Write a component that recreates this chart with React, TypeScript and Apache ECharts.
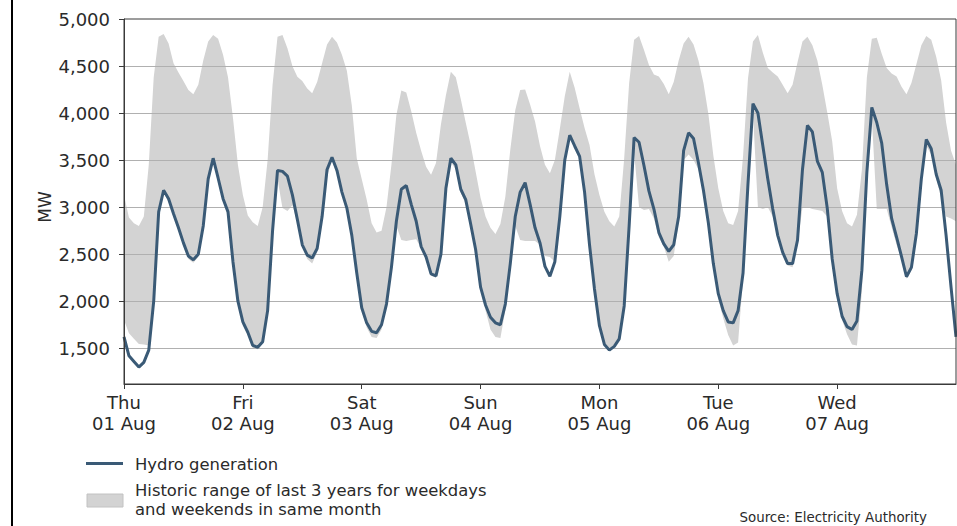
import React, { useEffect, useRef } from "react";
import * as echarts from "echarts";

const dayNames = ["Thu", "Fri", "Sat", "Sun", "Mon", "Tue", "Wed"];
const dayDates = ["01 Aug", "02 Aug", "03 Aug", "04 Aug", "05 Aug", "06 Aug", "07 Aug"];
const yTicks = [1500, 2000, 2500, 3000, 3500, 4000, 4500, 5000];

// hourly values, hour 0 = Thu 01 Aug 00:00 ... hour 168 = Thu 08 Aug 00:00
const hydro = [
  1620, 1420, 1360, 1300, 1350, 1480, 2000, 2950, 3180, 3090, 2930, 2780, 2620, 2480, 2440, 2500, 2800, 3300, 3520, 3310, 3090, 2950, 2420, 2000,
  1780, 1670, 1530, 1510, 1570, 1900, 2750, 3390, 3380, 3330, 3130, 2870, 2600, 2490, 2460, 2560, 2900, 3400, 3530, 3390, 3160, 2990, 2700, 2300,
  1930, 1770, 1680, 1665, 1750, 1970, 2360, 2850, 3190, 3230, 3030, 2850, 2580, 2470, 2290, 2270, 2500, 3200, 3520, 3450, 3190, 3080, 2820, 2550,
  2150, 1960, 1830, 1770, 1750, 1970, 2400, 2900, 3160, 3260, 3030, 2780, 2620, 2370, 2265, 2420, 2900, 3500, 3765, 3650, 3540, 3160, 2600, 2130,
  1740, 1540, 1480, 1520, 1600, 1950, 2800, 3740, 3690, 3440, 3170, 2980, 2730, 2610, 2530, 2600, 2900, 3600, 3790, 3730, 3470, 3180, 2830, 2400,
  2080, 1900, 1780, 1770, 1900, 2300, 3250, 4100, 4000, 3650, 3300, 2980, 2700, 2520, 2400, 2400, 2650, 3400, 3870, 3800, 3490, 3370, 2990, 2450,
  2080, 1840, 1730, 1700, 1790, 2330, 3370, 4060, 3900, 3680, 3240, 2880, 2680, 2475, 2260, 2360, 2720, 3300, 3720, 3620, 3350, 3180, 2700, 2150,
  1620,
];

const rangeHigh = [
  3130, 2890, 2830, 2800, 2900, 3450, 4380, 4810, 4840, 4740, 4530, 4430, 4340, 4245, 4200, 4300, 4560, 4760, 4830, 4790, 4620, 4380, 3950, 3450,
  3130, 2910, 2840, 2800, 3000, 3500, 4300, 4810, 4830, 4690, 4500, 4385, 4340, 4260, 4210, 4330, 4530, 4730, 4810, 4750, 4620, 4450, 4080, 3520,
  3300, 3080, 2830, 2730, 2750, 3000, 3450, 3980, 4240, 4220, 4020, 3790, 3600, 3430, 3345, 3470, 3880, 4190, 4440, 4380, 4150, 3900, 3660, 3380,
  3100, 2900, 2780, 2715, 2820, 3110, 3610, 4030, 4245, 4250, 4090, 3910, 3650, 3450, 3360, 3500, 3830, 4180, 4440, 4270, 4050, 3840, 3660, 3350,
  3130, 2950, 2850, 2795, 2900, 3520, 4320, 4780, 4820, 4670, 4510, 4410, 4390, 4310, 4200, 4330, 4560, 4740, 4810, 4730, 4560, 4320, 3990, 3550,
  3200, 2960, 2830, 2810, 2960, 3540, 4370, 4760, 4830, 4640, 4480, 4430, 4390, 4300, 4210, 4300, 4540, 4760, 4810, 4720, 4560, 4300, 4010, 3700,
  3200, 2960, 2830, 2795, 2920, 3400, 4380, 4790, 4800, 4630, 4480, 4420, 4390, 4280, 4200, 4320, 4520, 4720, 4820, 4780, 4600, 4350, 3900, 3600,
  3450,
];

const rangeLow = [
  1800, 1660, 1600, 1545, 1540, 1530, 1980, 2900, 3150, 3060, 2900, 2750, 2590, 2450, 2410, 2470, 2760, 3250, 3480, 3270, 3060, 2910, 2380, 1970,
  1740, 1650, 1500, 1490, 1550, 1880, 2700, 3300, 2990, 2960, 3020, 2840, 2580, 2450, 2400, 2520, 2860, 3330, 3490, 3350, 3130, 2960, 2670, 2270,
  1900, 1720, 1620, 1610, 1700, 1950, 2330, 2800, 2650, 2640, 2650, 2660, 2560, 2440, 2270, 2250, 2480, 3150, 3480, 3400, 3150, 3040, 2800, 2530,
  2120, 1900, 1700, 1620, 1610, 1900, 2380, 2800, 2650, 2640, 2640, 2640, 2600, 2480, 2470, 2420, 2880, 3480, 3740, 3630, 3520, 3140, 2580, 2110,
  1720, 1530, 1470, 1510, 1580, 1930, 2780, 3580, 3000, 2970, 2980, 2880, 2680, 2580, 2420, 2480, 2850, 3500, 3560, 3500, 3400, 3120, 2800, 2370,
  2030, 1820, 1640, 1530, 1560, 2250, 3200, 4000, 3000, 2980, 3000, 2900, 2680, 2500, 2380, 2360, 2600, 3000, 3000, 2980, 2970, 2960, 2900, 2400,
  2050, 1800, 1650, 1540, 1530, 2100, 3250, 3950, 2980, 2980, 2980, 2790, 2600, 2450, 2240, 2330, 2700, 3250, 3650, 3560, 3300, 3100, 2900, 2880,
  2850,
];

const FONT = "DejaVu Sans";
const TEXT = "#2a2a2a";
const SPINE = "#3a3a3a";
const LINE = "#3a5a76";
const BAND = "#d3d3d3";

export default function App() {
  const ref = useRef<HTMLDivElement>(null);

  useEffect(() => {
    if (!ref.current) return;
    const chart = echarts.init(ref.current, null, { renderer: "svg" });
    const hours = hydro.map((_, i) => i);

    const option: any = {
      animation: false,
      backgroundColor: "#ffffff",
      grid: {
        left: 124,
        right: 1,
        top: 19,
        bottom: 142,
        show: true,
        borderColor: SPINE,
        borderWidth: 1,
        backgroundColor: "transparent",
        z: 20,
      },
      xAxis: {
        type: "value",
        min: 0,
        max: 168,
        interval: 24,
        z: 20,
        axisLine: { show: true, onZero: false, lineStyle: { color: SPINE, width: 1 } },
        axisTick: { show: true, length: 5, lineStyle: { color: SPINE } },
        splitLine: { show: false },
        axisLabel: {
          show: true,
          showMinLabel: true,
          showMaxLabel: false,
          margin: 8,
          fontFamily: FONT,
          fontSize: 18,
          color: TEXT,
          lineHeight: 21,
          align: "center",
          formatter: (v: number) => {
            const i = Math.round(v / 24);
            if (i < 0 || i >= dayNames.length) return "";
            return dayNames[i] + "\n" + dayDates[i];
          },
        },
      },
      yAxis: {
        type: "value",
        min: 1120,
        max: 5000,
        z: 20,
        axisLine: { show: true, lineStyle: { color: SPINE, width: 1 } },
        axisTick: { show: true, length: 5, lineStyle: { color: SPINE }, customValues: yTicks },
        splitLine: { show: false },
        axisLabel: {
          customValues: yTicks,
          margin: 14,
          fontFamily: FONT,
          fontSize: 18,
          color: TEXT,
          formatter: (v: number) => v.toLocaleString("en-US"),
        },
      },
      series: [
        {
          name: "Historic range of last 3 years for weekdays and weekends in same month",
          type: "line",
          data: hours.map((h) => [h, rangeHigh[h]]),
          symbol: "none",
          lineStyle: { width: 0, opacity: 0 },
          areaStyle: { color: BAND, opacity: 1, origin: "start" },
          silent: true,
          z: 2,
        },
        {
          name: "range-low-mask",
          type: "line",
          data: hours.map((h) => [h, rangeLow[h]]),
          symbol: "none",
          lineStyle: { width: 0, opacity: 0 },
          areaStyle: { color: "#ffffff", opacity: 1, origin: "start" },
          silent: true,
          z: 3,
          markLine: {
            silent: true,
            symbol: ["none", "none"],
            label: { show: false },
            lineStyle: { color: "#b0b0b0", width: 1, type: "solid" },
            data: yTicks.filter((v) => v < 5000).map((v) => ({ yAxis: v })),
            z: 5,
          },
        },
        {
          name: "Hydro generation",
          type: "line",
          data: hours.map((h) => [h, hydro[h]]),
          symbol: "none",
          lineStyle: { color: LINE, width: 3 },
          z: 10,
        },
      ],
      graphic: [
        {
          type: "line",
          shape: { x1: 12, y1: 0, x2: 12, y2: 526 },
          style: { stroke: "#000", lineWidth: 2 },
        },
        {
          type: "text",
          x: 45,
          y: 207,
          rotation: Math.PI / 2,
          style: { text: "MW", font: `17px "${FONT}"`, fill: TEXT, align: "center", verticalAlign: "middle" },
        },
        {
          type: "line",
          shape: { x1: 86, y1: 463.5, x2: 123, y2: 463.5 },
          style: { stroke: LINE, lineWidth: 3 },
        },
        {
          type: "text",
          x: 135,
          y: 464,
          style: { text: "Hydro generation", font: `16.4px "${FONT}"`, fill: TEXT, align: "left", verticalAlign: "middle" },
        },
        {
          type: "rect",
          shape: { x: 87, y: 494, width: 36, height: 13 },
          style: { fill: BAND, stroke: "#c2c2c2", lineWidth: 1 },
        },
        {
          type: "text",
          x: 135,
          y: 500,
          style: {
            text: "Historic range of last 3 years for weekdays\nand weekends in same month",
            font: `16.4px "${FONT}"`,
            lineHeight: 19,
            fill: TEXT,
            align: "left",
            verticalAlign: "middle",
          },
        },
        {
          type: "text",
          x: 927,
          y: 517,
          style: { text: "Source: Electricity Authority", font: `13.4px "${FONT}"`, fill: TEXT, align: "right", verticalAlign: "middle" },
        },
      ],
    };

    chart.setOption(option);
    return () => chart.dispose();
  }, []);

  return (
    <div
      ref={ref}
      style={{ position: "absolute", left: 0, top: 0, width: 957, height: 526 }}
    />
  );
}
